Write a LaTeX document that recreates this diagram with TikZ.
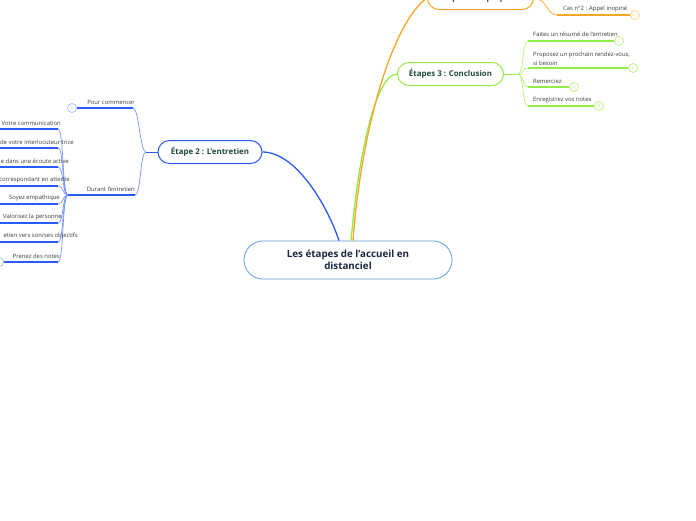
\documentclass[tikz,border=0pt]{standalone}
\usepackage{fontspec}
\setmainfont{Open Sans}
\usetikzlibrary{calc}
\definecolor{coeurbleu}{RGB}{92,158,220}
\definecolor{nuit}{RGB}{26,39,64}
\definecolor{sapin}{RGB}{30,74,58}
\definecolor{bleu}{RGB}{42,92,245}
\definecolor{bleuclair}{RGB}{118,150,255}
\definecolor{bleupale}{RGB}{165,190,255}
\definecolor{vert}{RGB}{150,236,70}
\definecolor{vertclair}{RGB}{184,242,122}
\definecolor{ambre}{RGB}{247,166,40}
\definecolor{ambrepale}{RGB}{251,210,140}
\definecolor{gristexte}{RGB}{60,60,60}

\begin{document}
\begin{tikzpicture}[x=1pt,y=-1pt,
  racine/.style={draw=coeurbleu,line width=0.8pt,fill=white,rounded corners=19pt,
    minimum width=208pt,minimum height=38pt,align=center,text=nuit,
    font=\bfseries\fontsize{9.8}{12.5}\selectfont},
  etape/.style={draw=#1,line width=1pt,fill=white,rounded corners=11.5pt,
    minimum width=106pt,minimum height=23pt,text=sapin,
    font=\bfseries\fontsize{7.9}{9}\selectfont},
  feuille/.style={text=gristexte,font=\fontsize{5.9}{9}\selectfont,inner sep=0pt},
  pastille/.style={circle,draw=#1,line width=0.7pt,fill=white,minimum size=9pt,
    inner sep=0pt,text=#1,font=\fontsize{4.4}{5}\selectfont},
  souligne/.style={draw=#1,line width=1.8pt},
  lien/.style={draw=#1,line width=0.7pt},
  branche/.style={draw=#1,line width=1.3pt}]
  \useasboundingbox (0,0) rectangle (696,520);

  % centre et etapes
  \node[racine] (accueil) at (348,260) {Les étapes de l'accueil en\\distanciel};
  \node[etape=bleu,minimum width=104pt] (etape2) at (210,152) {Étape 2 : L'entretien};
  \node[etape=vert] (etape3) at (450.5,74) {Étapes 3 : Conclusion};
  \node[etape=ambre] (etape1) at (480.5,-2) {Étape 1 : Se préparer};

  \draw[branche=bleu] ($(accueil.north)+(-9,0)$) .. controls +(-12,-36) and +(33,0) .. (etape2.east);
  \draw[branche=vert] ($(accueil.north)+(3,0)$) .. controls +(9,-100) and +(-19,0) .. (etape3.west);
  \draw[branche=ambre] ($(accueil.north)+(5,0)$) .. controls +(9,-120) and +(-32,22) .. (etape1.west);

  % etape 1
  \coordinate (cas) at (557,15);
  \node[pastille=ambrepale] (cas-n) at (635,15) {21};
  \draw[lien=ambre] (etape1.east) .. controls +(12,0) and +(-10,0) .. (cas);
  \draw[souligne=ambre] (cas) -- (cas-n);
  \node[feuille,anchor=west] (cas-t) at (563,9) {Cas n°2 : Appel inopiné};

  % etape 3
  \coordinate (j3) at (518,74);
  \draw[lien=vert] (etape3.east) -- (j3);
  \foreach \n/\y/\xb/\num in {1/41/619/2,2/68/633/2,3/87/574/3,4/106/599/4}{
    \coordinate (c3-\n) at (528,\y);
    \node[pastille=vertclair] (p3-\n) at (\xb,\y) {\num};
    \draw[lien=vertclair] (j3) .. controls +(6,0) and +(-6,0) .. (c3-\n);
    \draw[souligne=vert] (c3-\n) -- (p3-\n);
  }
  \node[feuille,anchor=west] (t3-1) at (533,34) {Faites un résumé de l'entretien};
  \node[feuille,anchor=west,align=left] (t3-2) at (533,58.5) {Proposez un prochain rendez-vous,\\si besoin};
  \node[feuille,anchor=west] (t3-3) at (533,81) {Remerciez};
  \node[feuille,anchor=west] (t3-4) at (533,100) {Enregistrez vos notes};

  % etape 2
  \coordinate (j2) at (146,152);
  \draw[lien=bleu] (etape2.west) -- (j2);
  \coordinate (debut) at (133,108);
  \node[pastille=bleupale] (debut-n) at (72,108) {0};
  \draw[lien=bleuclair] (j2) .. controls +(-6,0) and +(6,0) .. (debut);
  \draw[souligne=bleu] (debut) -- (debut-n);
  \node[feuille,anchor=east] (debut-t) at (135,102) {Pour commencer};

  \coordinate (durant) at (135,195);
  \coordinate (j2b) at (68,195);
  \draw[lien=bleuclair] (j2) .. controls +(-6,0) and +(6,0) .. (durant);
  \draw[souligne=bleu] (durant) -- (j2b);
  \node[feuille,anchor=east] (durant-t) at (135,189) {Durant l'entretien};

  \foreach \n/\y in {1/129,2/148,3/167,4/186,5/204,6/223,7/242,8/262}{
    \coordinate (f\n) at (58,\y);
    \coordinate (f\n-bout) at (-6,\y);
    \draw[lien=bleuclair] (j2b) .. controls +(-6,0) and +(6,0) .. (f\n);
    \draw[souligne=bleu] (f\n) -- (f\n-bout);
  }
  \node[pastille=bleupale] (f8-n) at (-1,262) {};
  \node[feuille,anchor=east] (f1-t) at (61,123) {Votre communication};
  \node[feuille,anchor=east] (f2-t) at (74,142) {de votre interlocuteur·trice};
  \node[feuille,anchor=east] (f3-t) at (69,161) {e dans une écoute active};
  \node[feuille,anchor=east] (f4-t) at (70,180) {correspondant en attente};
  \node[feuille,anchor=east] (f5-t) at (60,198) {Soyez empathique};
  \node[feuille,anchor=east] (f6-t) at (62,217) {Valorisez la personne};
  \node[feuille,anchor=east] (f7-t) at (78,236) {etien vers son/ses objectifs};
  \node[feuille,anchor=east] (f8-t) at (60,256) {Prenez des notes};
\end{tikzpicture}
\end{document}
